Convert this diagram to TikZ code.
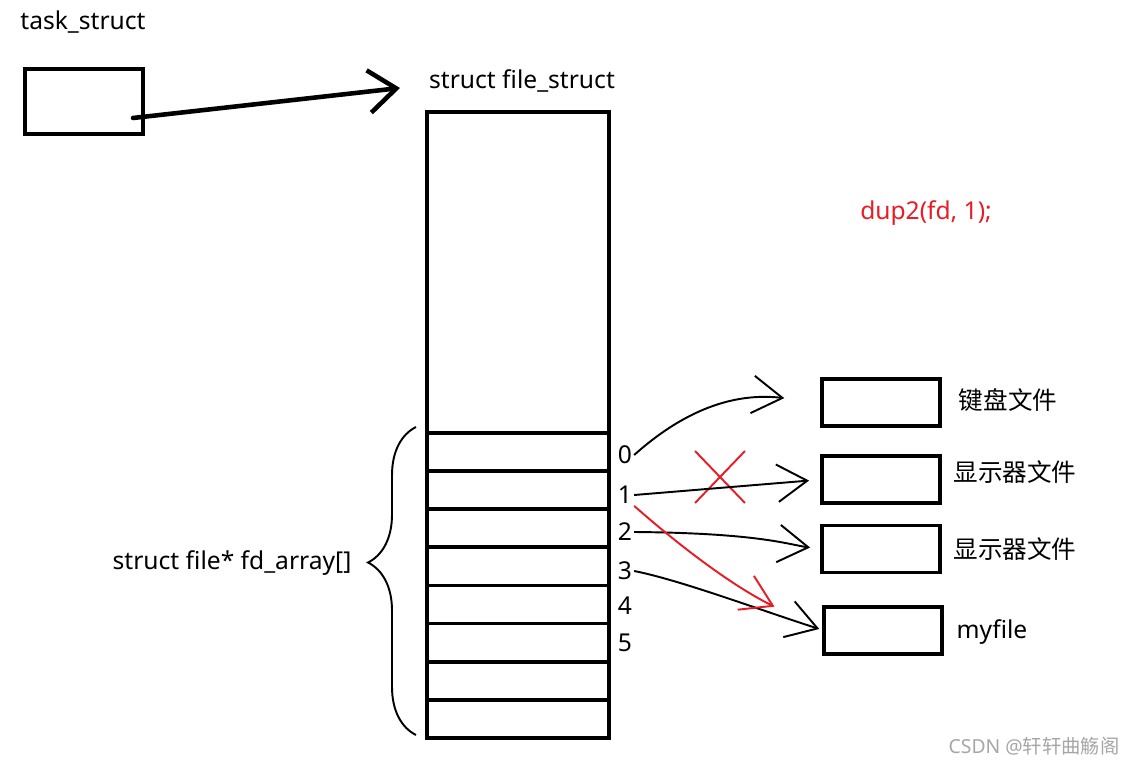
\documentclass[tikz,border=0pt]{standalone}
\usepackage{fontspec}
\setmainfont{Noto Sans}
\newfontfamily\cjk{Noto Sans CJK SC}
\usepackage{xcolor}
\usepackage{tikz}
\usetikzlibrary{shapes,arrows.meta,positioning,decorations.pathreplacing}
\definecolor{penred}{RGB}{232,28,36}

\begin{document}
\begin{tikzpicture}[x=0.02cm, y=-0.02cm,
    font=\fontsize{14}{16}\selectfont,
    % Styles for the hand drawn boxes and pointers
    box/.style={rectangle, draw, line width=2.2pt, minimum width=2.36cm, minimum height=0.94cm, outer sep=0pt},
    slot/.style={rectangle, draw, line width=2.2pt, minimum width=3.64cm, minimum height=0.762cm, inner sep=0pt, outer sep=0pt},
    idx/.style={inner sep=1pt},
    caption/.style={inner sep=0pt},
    line/.style={draw, line width=1.1pt, -{Straight Barb[length=0.6cm, width=0.75cm, line width=1.1pt]}},
    redline/.style={line, draw=penred}]

    \useasboundingbox (0,0) rectangle (1128,766);

    % Node: task_struct
    \node [caption] (tasklabel) at (83,22) {task\_struct};
    \node [box, minimum height=1.3cm] (task) at (84,101.5) {};

    % Node: struct file_struct
    \node [caption] (fslabel) at (522,81) {struct file\_struct};
    \node [slot, minimum height=6.42cm] (fs) at (518,272.5) {};

    % Slots of fd_array
    \foreach \i in {0,...,7}
        \node [slot] (r\i) at (518, {452.1+38.1*\i}) {};

    % Indices
    \foreach \i/\y in {0/455, 1/495, 2/532, 3/571, 4/606, 5/643}
        \node [idx] (n\i) at (625,\y) {\i};

    % Brace and its label
    \draw [line width=1.1pt, decorate, decoration={brace, amplitude=0.96cm, aspect=0.56}] (416,735) -- (416,427);
    \node [caption] (fdlabel) at (232,563) {struct file* fd\_array[]};

    % Files
    \node [box] (file0) at (881,402.5) {};
    \node [box] (file1) at (881,479.5) {};
    \node [box] (file2) at (881,549) {};
    \node [box] (file3) at (883,630.5) {};
    \node [caption] (f0label) at (1008,400) {\cjk 键盘文件};
    \node [caption] (f1label) at (1015,472) {\cjk 显示器文件};
    \node [caption] (f2label) at (1015,549) {\cjk 显示器文件};
    \node [caption] (f3label) at (992,632) {myfile};

    % dup2 call
    \node [caption, text=penred] (dup) at (926,213) {dup2(fd, 1);};
    \node [cross out, draw=penred, line width=1.1pt, minimum width=0.96cm, minimum height=1cm] (xout) at (720,477) {};

    % task_struct points to file_struct
    \coordinate (tstart) at (133,118);
    \coordinate (ttip) at (400,88);
    \path [draw, line width=2.6pt, line cap=round, -{Straight Barb[length=0.55cm, width=0.85cm, line width=2.6pt]}] (tstart) -- (ttip);

    % Pointers to files
    \path [line, shorten >=0.76cm] (n0.east) .. controls (690,405) and (740,393) .. (file0.west);
    \path [line, shorten >=0.26cm] (n1.east) -- (file1.west);
    \path [line, shorten >=0.24cm] (n2.east) .. controls (760,533) and (790,545) .. (file2.west);
    \path [line, shorten >=0.1cm] (n3.east) .. controls (680,580) and (760,610) .. (file3.west);

    % dup2 redirects 1
    \path [redline, shorten >=1.1cm] (n1.south east) .. controls (690,555) and (740,590) .. (file3.west);

    % Watermark
    \node [caption, text=gray!70] (mark) at (1034,746) {\fontsize{11}{13}\selectfont CSDN @\cjk 轩轩曲觞阁};

\end{tikzpicture}
\end{document}
